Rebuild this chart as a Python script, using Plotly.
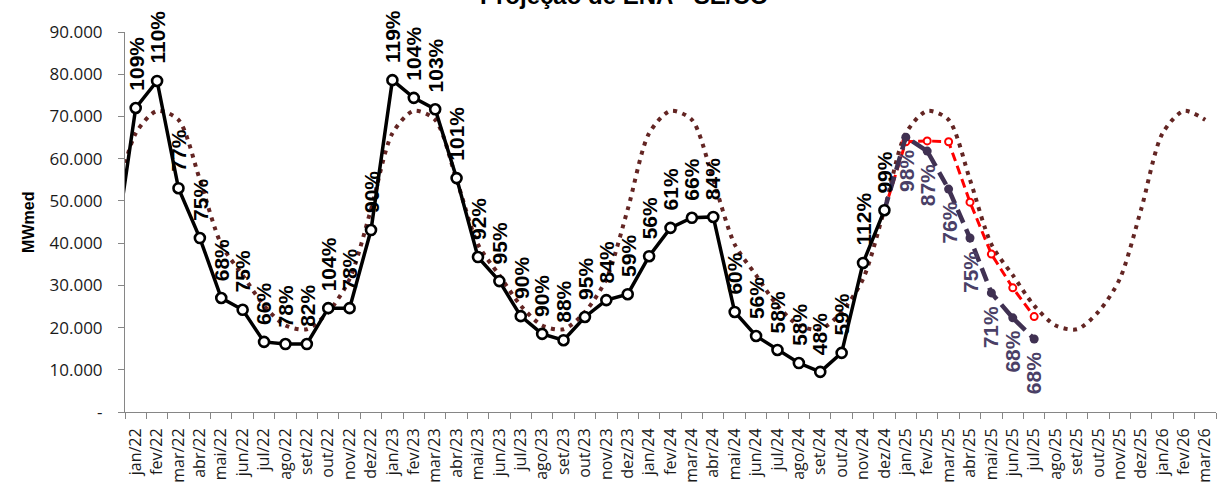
import plotly.graph_objects as go

# ---------------- data ----------------
months = ['dez/21',
          'jan/22', 'fev/22', 'mar/22', 'abr/22', 'mai/22', 'jun/22', 'jul/22', 'ago/22', 'set/22', 'out/22', 'nov/22', 'dez/22',
          'jan/23', 'fev/23', 'mar/23', 'abr/23', 'mai/23', 'jun/23', 'jul/23', 'ago/23', 'set/23', 'out/23', 'nov/23', 'dez/23',
          'jan/24', 'fev/24', 'mar/24', 'abr/24', 'mai/24', 'jun/24', 'jul/24', 'ago/24', 'set/24', 'out/24', 'nov/24', 'dez/24',
          'jan/25', 'fev/25', 'mar/25', 'abr/25', 'mai/25', 'jun/25', 'jul/25', 'ago/25', 'set/25', 'out/25', 'nov/25', 'dez/25',
          'jan/26', 'fev/26', 'mar/26']

# ENA verificada (dez/21 .. dez/24)
realized = [37000,
            72000, 78400, 53000, 41200, 27000, 24200, 16600, 16100, 16100, 24600, 24600, 43100,
            78600, 74400, 71700, 55400, 36700, 31000, 22700, 18500, 17000, 22500, 26500, 27900,
            36900, 43600, 46000, 46200, 23700, 18000, 14700, 11600, 9500, 14000, 35300, 47800]
realized_pct = [109, 110, 77, 75, 68, 75, 66, 78, 82, 104, 78, 90,
                119, 104, 103, 101, 92, 95, 90, 90, 88, 95, 84, 59,
                56, 61, 66, 84, 60, 56, 58, 58, 48, 59, 112, 99]

# MLT by calendar month (jan .. dez)
mlt_month = [66000, 71300, 69200, 55000, 39700, 32400, 25200, 20500, 19600, 23700, 31500, 48000]

# projections (dez/24 .. jul/25)
proj_months = ['dez/24', 'jan/25', 'fev/25', 'mar/25', 'abr/25', 'mai/25', 'jun/25', 'jul/25']
proj_red = [47800, 64000, 64200, 64000, 49700, 37400, 29400, 22600]
proj_purple = [47800, 65100, 61800, 52800, 41200, 28200, 22300, 17300]
proj_purple_pct = [98, 87, 76, 75, 71, 68, 68]

y_ticks = [0, 10000, 20000, 30000, 40000, 50000, 60000, 70000, 80000, 90000]
y_ticktext = ['-', '10.000', '20.000', '30.000', '40.000', '50.000', '60.000', '70.000', '80.000', '90.000']

# ---------------- build ----------------
mlt_series = [mlt_month[(i + 11) % 12] for i in range(len(months))]

PURPLE = '#403152'
fig = go.Figure()

fig.add_trace(go.Scatter(
    x=months, y=mlt_series, mode='lines',
    line=dict(color='#632523', width=4, dash='4px,5.5px', shape='spline', smoothing=0.8),
    hoverinfo='skip', showlegend=False))

fig.add_trace(go.Scatter(
    x=proj_months, y=proj_red, mode='lines+markers',
    line=dict(color='#FF0000', width=3, dash='9px,5px'),
    marker=dict(size=7, color='white', line=dict(color='#FF0000', width=2)),
    showlegend=False))

fig.add_trace(go.Scatter(
    x=proj_months, y=proj_purple, mode='lines+markers',
    line=dict(color=PURPLE, width=4.5, dash='14px,7px'),
    marker=dict(size=9, color=PURPLE),
    showlegend=False))

fig.add_trace(go.Scatter(
    x=months[:len(realized)], y=realized, mode='lines+markers',
    line=dict(color='black', width=3.5),
    marker=dict(size=10, color='white', line=dict(color='black', width=2.6)),
    showlegend=False))

annotations = []
for i, p in enumerate(realized_pct):
    annotations.append(dict(
        x=months[i + 1], y=realized[i + 1], xref='x', yref='y',
        text=f'{p}%', textangle=-90, showarrow=False,
        xanchor='center', yanchor='bottom', yshift=15,
        font=dict(family='Liberation Sans', size=21, color='black', weight='bold')))
for i, p in enumerate(proj_purple_pct):
    annotations.append(dict(
        x=proj_months[i + 1], y=proj_purple[i + 1], xref='x', yref='y',
        text=f'{p}%', textangle=-90, showarrow=False,
        xanchor='center', yanchor='top', yshift=-11,
        font=dict(family='Liberation Sans', size=21, color='#4a3f66', weight='bold')))

annotations.append(dict(
    text='MWmed', textangle=-90, showarrow=False,
    xref='paper', yref='paper', x=-0.089, y=0.50,
    xanchor='center', yanchor='middle',
    font=dict(family='Liberation Sans', size=16, color='black', weight='bold')))

annotations.append(dict(
    text='Projeção de ENA - SE/CO', showarrow=False,
    xref='paper', yref='paper', x=0.458, y=1.095,
    xanchor='center', yanchor='middle',
    font=dict(family='Liberation Sans', size=24, color='black', weight='bold')))

fig.update_layout(
    width=1224, height=484,
    margin=dict(l=125, r=8, t=32, b=72),
    plot_bgcolor='white', paper_bgcolor='white',
    annotations=annotations,
    xaxis=dict(
        type='category', categoryorder='array', categoryarray=months,
        range=[0.5, len(months) - 0.5], automargin=False,
        tickson='boundaries', ticks='outside', ticklen=6, tickcolor='#868686', tickwidth=1,
        tickangle=-90, showline=True, linecolor='#868686', linewidth=1,
        showgrid=False, zeroline=False, ticklabelstandoff=9,
        tickfont=dict(family='Open Sans', size=16, color='#1a1a1a')),
    yaxis=dict(
        range=[0, 90000], tickvals=y_ticks, ticktext=y_ticktext, automargin=False,
        ticks='outside', ticklen=6, tickcolor='#868686', tickwidth=1,
        showline=True, linecolor='#868686', linewidth=1,
        showgrid=False, zeroline=False, ticklabelstandoff=12,
        tickfont=dict(family='Open Sans', size=17, color='#1a1a1a')),
)

fig.write_html('out.html', config={'displayModeBar': False},
               post_script="document.body.style.margin='0px';document.body.style.overflow='hidden';")
